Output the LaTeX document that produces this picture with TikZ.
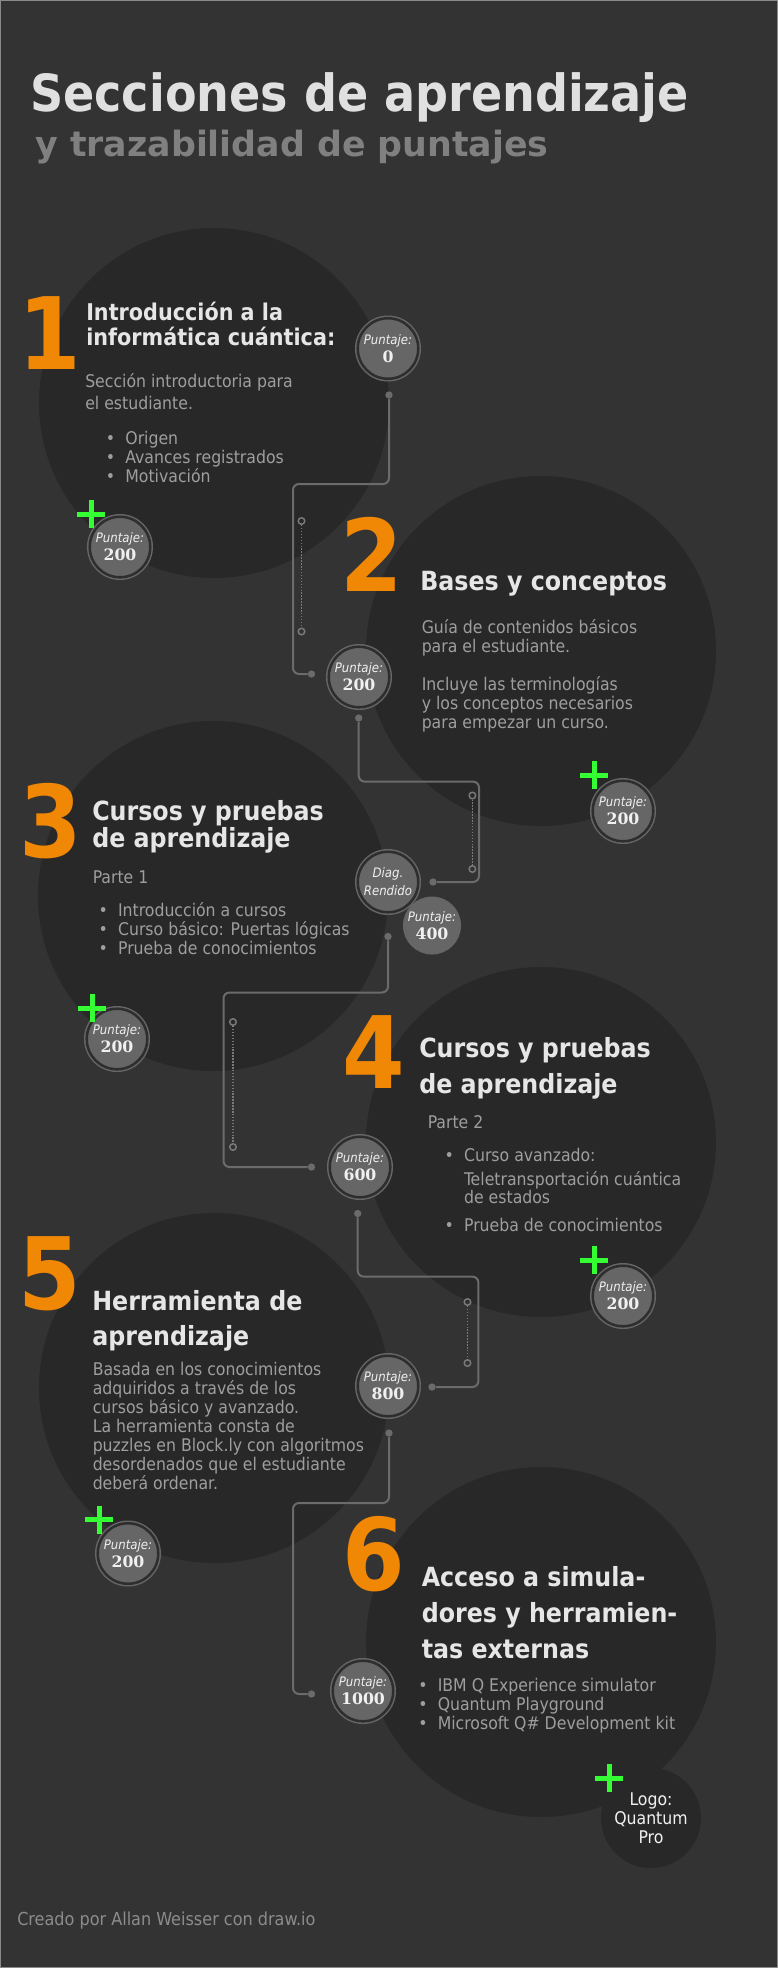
\documentclass[tikz,border=0pt]{standalone}
\usepackage{fontspec}
\setmainfont{DejaVu Sans Condensed}
\newfontfamily\widefont{DejaVu Sans}
\newfontfamily\numfont{DejaVu Serif}
\usetikzlibrary{shapes}
\definecolor{bgcol}{HTML}{333333}
\definecolor{framecol}{HTML}{8A8A8A}
\definecolor{disccol}{HTML}{282828}
\definecolor{badgecol}{HTML}{666666}
\definecolor{gapcol}{HTML}{2E2E2E}
\definecolor{wirecol}{HTML}{6B6B6B}
\definecolor{dotcol}{HTML}{7A7A7A}
\definecolor{orangecol}{HTML}{F08705}
\definecolor{titlecol}{HTML}{E0E0E0}
\definecolor{subcol}{HTML}{808080}
\definecolor{headcol}{HTML}{E6E6E6}
\definecolor{bodycol}{HTML}{9E9E9E}
\definecolor{badgetxt}{HTML}{F0F0F0}
\definecolor{greencol}{HTML}{33FF33}
\definecolor{footcol}{HTML}{8C8C8C}

\begin{document}
\begin{tikzpicture}[x=0.75pt,y=-0.75pt]
	\tikzstyle{disc}=[circle,fill=disccol,inner sep=0pt,minimum size=262.5pt]
	\tikzstyle{txt}=[inner sep=0pt,anchor=base west,align=left]
	\tikzstyle{num}=[txt,text=orangecol,font=\fontsize{75}{75}\selectfont\bfseries]
	\tikzstyle{head}=[txt,text=headcol,font=\fontsize{19.8}{27}\selectfont\bfseries]
	\tikzstyle{body}=[txt,text=bodycol,font=\fontsize{13.1}{14.25}\selectfont]
	\tikzstyle{badge}=[circle,draw=badgecol,fill=badgecol,line width=1.1pt,double=gapcol,double distance=1.9pt,minimum size=45.4pt,inner sep=0pt,align=center,text=badgetxt,font=\fontsize{9.8}{13.5}\selectfont\itshape]
	\tikzstyle{disk}=[circle,fill=badgecol,minimum size=43.5pt,inner sep=0pt,align=center,text=badgetxt,font=\fontsize{9.8}{13.5}\selectfont\itshape]
	\tikzstyle{bonus}=[cross out,draw=greencol,line width=3.75pt,rotate=45,minimum size=11.1pt,inner sep=0pt]
	\tikzstyle{joint}=[circle,fill=wirecol,minimum size=5.5pt,inner sep=0pt]
	\tikzstyle{hole}=[circle,draw=dotcol,line width=1.1pt,minimum size=4.9pt,inner sep=0pt]
	\tikzstyle{wire}=[draw=wirecol,line width=1.5pt,rounded corners=4.5pt]
	\tikzstyle{trail}=[draw=dotcol,line width=1.1pt,dash pattern=on 1.1pt off 1.1pt]
	\useasboundingbox (0,0) rectangle (778,1968);
	\fill[bgcol] (0,0) rectangle (778,1968);
	\draw[framecol,line width=0.75pt] (0.5,0.5) rectangle (777.5,1967.5);
	\node[disc] (c1) at (214,403) {};
	\node[disc] (c2) at (541,651) {};
	\node[disc] (c3) at (213,896) {};
	\node[disc] (c4) at (541,1142) {};
	\node[disc] (c5) at (214,1388) {};
	\node[disc] (c6) at (541,1642) {};
	\node[disc,minimum size=75pt,text=badgetxt,align=center,font=\fontsize{13.1}{14.4}\selectfont] (logo) at (651,1818) {Logo:\\Quantum\\Pro};
	\node[txt,text=titlecol,font=\fontsize{38.4}{40}\selectfont\bfseries] (title) at (30,111.5) {Secciones de aprendizaje};
	\node[txt,text=subcol,font=\widefont\fontsize{26.1}{28}\selectfont\bfseries] (subtitle) at (35,156.6) {y trazabilidad de puntajes};
	\node[hole] (r1a) at (301.5,521) {};
	\node[hole] (r1b) at (301.5,631.5) {};
	\draw[trail] (r1a) -- (r1b);
	\node[hole] (r2a) at (472.4,795.5) {};
	\node[hole] (r2b) at (472.4,869) {};
	\draw[trail] (r2a) -- (r2b);
	\node[hole] (r3a) at (233,1022) {};
	\node[hole] (r3b) at (233,1147) {};
	\draw[trail] (r3a) -- (r3b);
	\node[hole] (r4a) at (467.5,1302) {};
	\node[hole] (r4b) at (467.5,1363) {};
	\draw[trail] (r4a) -- (r4b);
	\node[joint] (d0) at (389,395) {};
	\node[joint] (d1) at (311.5,674) {};
	\node[joint] (d2) at (358.7,718) {};
	\node[joint] (d3) at (433,882) {};
	\node[joint] (d4) at (388,936.5) {};
	\node[joint] (d5) at (311.5,1167) {};
	\node[joint] (d6) at (357.7,1213.5) {};
	\node[joint] (d7) at (432,1387) {};
	\node[joint] (d8) at (389,1433) {};
	\node[joint] (d9) at (311.5,1694) {};
	\coordinate (j0) at (293,484);
	\coordinate (j1) at (479,781.6);
	\coordinate (j2) at (223.5,992.5);
	\coordinate (j3) at (478.4,1276.6);
	\coordinate (j4) at (293,1503);
	\draw[wire] (d0) |- (j0) |- (d1);
	\draw[wire] (d2) |- (j1) |- (d3);
	\draw[wire] (d4) |- (j2) |- (d5);
	\draw[wire] (d6) |- (j3) |- (d7);
	\draw[wire] (d8) |- (j4) |- (d9);
	\node[badge] (b0) at (388,348.5) {Puntaje:\\{\numfont\bfseries\upshape\fontsize{11.8}{13.5}\selectfont 0}};
	\node[badge] (b1) at (120,547) {Puntaje:\\{\numfont\bfseries\upshape\fontsize{11.8}{13.5}\selectfont 200}};
	\node[badge] (b2) at (359,677) {Puntaje:\\{\numfont\bfseries\upshape\fontsize{11.8}{13.5}\selectfont 200}};
	\node[badge] (b2x) at (623,811) {Puntaje:\\{\numfont\bfseries\upshape\fontsize{11.8}{13.5}\selectfont 200}};
	\node[badge] (diag) at (388,882) {Diag.\\Rendido};
	\node[disk] (b400) at (432,925.5) {Puntaje:\\{\numfont\bfseries\upshape\fontsize{11.8}{13.5}\selectfont 400}};
	\node[badge] (b3x) at (117,1039) {Puntaje:\\{\numfont\bfseries\upshape\fontsize{11.8}{13.5}\selectfont 200}};
	\node[badge] (b600) at (360,1167) {Puntaje:\\{\numfont\bfseries\upshape\fontsize{11.8}{13.5}\selectfont 600}};
	\node[badge] (b4x) at (623,1296) {Puntaje:\\{\numfont\bfseries\upshape\fontsize{11.8}{13.5}\selectfont 200}};
	\node[badge] (b800) at (388,1386) {Puntaje:\\{\numfont\bfseries\upshape\fontsize{11.8}{13.5}\selectfont 800}};
	\node[badge] (b5x) at (128,1553.5) {Puntaje:\\{\numfont\bfseries\upshape\fontsize{11.8}{13.5}\selectfont 200}};
	\node[badge] (b1000) at (363,1691) {Puntaje:\\{\numfont\bfseries\upshape\fontsize{11.8}{13.5}\selectfont 1000}};
	\node[bonus] (g1) at (91,514) {};
	\node[bonus] (g2) at (594,775) {};
	\node[bonus] (g3) at (92,1008) {};
	\node[bonus] (g4) at (594,1260) {};
	\node[bonus] (g5) at (99.4,1519.6) {};
	\node[bonus] (g6) at (609,1778) {};
	\node[num] (n1) at (18,369) {1};
	\node[num] (n2) at (340,591) {2};
	\node[num] (n3) at (19,857) {3};
	\node[num] (n4) at (342,1088.5) {4};
	\node[num] (n5) at (18,1309) {5};
	\node[num] (n6) at (342,1590.5) {6};
	\node[head,font=\fontsize{17.3}{18.2}\selectfont\bfseries] (h1) at (86,345) {Introducción a la\\informática cuántica:};
	\node[head] (h2) at (420,590.5) {Bases y conceptos};
	\node[head,font=\fontsize{19.8}{20.25}\selectfont\bfseries] (h3) at (92,847) {Cursos y pruebas\\de aprendizaje};
	\node[head,font=\fontsize{19.8}{26.85}\selectfont\bfseries] (h4) at (419,1093.5) {Cursos y pruebas\\de aprendizaje};
	\node[head,font=\fontsize{19.8}{26.7}\selectfont\bfseries] (h5) at (92,1345.6) {Herramienta de\\aprendizaje};
	\node[head] (h6) at (421.5,1658.8) {Acceso a simula-\\dores y herramien-\\tas externas};
	\node[body,font=\fontsize{13.1}{16.5}\selectfont] (t1) at (85,409) {Sección introductoria para\\el estudiante.};
	\node[body] (l1) at (105.6,482.5) {\textbullet\hspace{7.7pt}Origen\\\textbullet\hspace{7.7pt}Avances registrados\\\textbullet\hspace{7.7pt}Motivación};
	\node[body] (t2) at (421.5,728) {Guía de contenidos básicos\\para el estudiante.\\[14.25pt]Incluye las terminologías\\y los conceptos necesarios\\para empezar un curso.};
	\node[body] (t3) at (92.5,883) {Parte 1};
	\node[body] (l3) at (98.3,954) {\textbullet\hspace{7.7pt}Introducción a cursos\\\textbullet\hspace{7.7pt}Curso básico: Puertas lógicas\\\textbullet\hspace{7.7pt}Prueba de conocimientos};
	\node[body] (t4) at (427.5,1128) {Parte 2};
	\node[body,font=\fontsize{13.1}{13.5}\selectfont] (l4) at (444.3,1231) {\textbullet\hspace{7.7pt}Curso avanzado:\\[4.5pt]\phantom{\textbullet}\hspace{7.7pt}Teletransportación cuántica\\\phantom{\textbullet}\hspace{7.7pt}de estados\\[7.5pt]\textbullet\hspace{7.7pt}Prueba de conocimientos};
	\node[body,font=\fontsize{13.1}{14.2}\selectfont] (t5) at (92.5,1489) {Basada en los conocimientos\\adquiridos a través de los\\cursos básico y avanzado.\\La herramienta consta de\\puzzles en Block.ly con algoritmos\\desordenados que el estudiante\\deberá ordenar.};
	\node[body,font=\fontsize{13.1}{13.9}\selectfont] (l6) at (418,1729) {\textbullet\hspace{7.7pt}IBM Q Experience simulator\\\textbullet\hspace{7.7pt}Quantum Playground\\\textbullet\hspace{7.7pt}Microsoft Q\# Development kit};
	\node[body,text=footcol,font=\fontsize{13.4}{14.25}\selectfont] (foot) at (17,1925.4) {Creado por Allan Weisser con draw.io};
\end{tikzpicture}
\end{document}
